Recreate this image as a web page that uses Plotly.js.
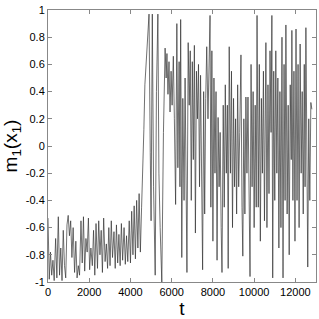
<!DOCTYPE html>
<html><head><meta charset="utf-8">
<script src="https://cdn.plot.ly/plotly-3.0.1.min.js"></script>
<style>html,body{margin:0;padding:0;background:#fff}#c{width:319px;height:319px}</style>
</head><body><div id="c"></div>
<script>
const tValues = [
0,60,120,180,240,300,370,430,500,560,
620,680,740,800,860,920,980,1040,1100,1160,
1220,1290,1350,1410,1470,1530,1600,1660,1720,1780,
1840,1900,1960,2020,2080,2150,2210,2270,2330,2400,
2460,2520,2580,2640,2700,2770,2830,2890,2950,3010,
3070,3130,3200,3260,3320,3380,3440,3500,3560,3620,
3690,3750,3810,3870,3940,4000,4060,4120,4180,4240,
4300,4360,4420,4480,4540,
4600,4650,4700,4760,4900,4960,5000,5060,5120,5200,
5260,5330,5380,5440,5520,5600,5680,5730,5770,5820,
5870,5920,5970,6020,6080,6130,6190,6250,6300,6360,
6400,6435,6490,6540,6600,6650,6700,6740,6800,6850,
6900,6950,7000,7050,7100,7150,7200,7250,7300,7350,
7400,7450,7500,7550,7600,7650,7700,7760,7800,7860,
7900,7950,8000,8050,8100,8150,8200,8250,8300,8350,
8400,8440,8500,8550,8600,8650,8700,8740,8790,8850,
8900,8950,9000,9050,9100,9150,9200,9250,9300,9360,
9410,9450,9500,9550,9600,9650,9700,9750,9800,9850,
9900,9950,10000,10050,10100,10140,10200,10250,10300,10350,
10400,10450,10500,10570,10620,10670,10720,10770,10820,10860,
10900,10950,11000,11050,11100,11150,11200,11250,11300,11350,
11400,11450,11500,11540,11600,11650,11700,11750,11800,11830,
11880,11930,11980,12030,12080,12130,12180,12230,12280,12330,
12380,12430,12470,12510,12560,12600,12650,12700,12750,12800];
const mValues = [
-0.53,-0.98,-0.78,-0.95,-0.84,-0.99,-0.68,-0.97,-0.52,-0.95,
-0.75,-0.99,-0.62,-0.88,-0.97,-0.58,-0.51,-0.66,-0.55,-0.82,
-0.60,-0.93,-0.70,-0.97,-0.88,-0.95,-0.55,-0.86,-0.52,-0.92,
-0.68,-0.78,-0.53,-0.91,-0.75,-0.88,-0.62,-0.95,-0.57,-0.90,
-0.55,-0.80,-0.62,-0.93,-0.53,-0.85,-0.72,-0.90,-0.60,-0.88,
-0.55,-0.82,-0.63,-0.90,-0.58,-0.86,-0.65,-0.88,-0.57,-0.84,
-0.60,-0.87,-0.66,-0.85,-0.55,-0.86,-0.48,-0.80,-0.44,-0.83,
-0.40,-0.75,-0.35,-0.78,-0.45,
0.0,0.12,0.45,0.62,0.97,-0.05,-0.55,0.97,-0.3,-0.95,
0.4,0.97,-0.2,-0.6,-1.0,0.1,0.72,0.5,0.68,0.38,
0.62,0.25,0.55,0.3,0.66,0.2,-0.43,0.90,-0.16,0.62,
-0.30,0.93,-0.82,0.35,-0.40,0.50,-0.10,-0.93,0.76,0.30,
0.70,-0.40,0.62,-0.10,0.74,-0.64,0.55,0.20,0.60,-0.30,
0.52,-0.20,-0.91,0.40,-0.50,0.35,0.73,0.20,0.55,0.96,
-0.45,0.70,-0.70,0.50,-0.20,0.40,-0.84,0.21,-0.30,0.10,
-0.60,-0.93,0.30,-0.45,0.45,-0.20,0.30,-0.90,0.73,-0.20,
0.55,-0.60,0.35,-0.30,0.20,-0.50,0.45,-0.30,0.10,0.67,
-0.45,-0.81,0.20,-0.50,0.36,-0.20,0.36,-0.40,-0.96,0.60,
-0.30,0.40,-0.60,0.30,-0.45,0.96,-0.45,0.60,-0.70,0.35,
-0.20,0.55,-0.55,0.76,-0.60,0.45,-0.35,0.70,0.10,0.96,
-0.97,0.55,-0.40,0.70,-0.20,0.50,-0.75,0.40,-0.60,0.80,
-0.97,0.60,-0.40,0.89,-0.50,0.30,-0.80,0.45,-0.10,0.85,
-0.40,0.55,-0.70,0.86,-0.40,0.60,-0.60,0.75,-0.20,0.40,
-0.50,0.60,-0.30,0.87,-0.50,-0.89,0.20,-0.40,0.32,0.27];
const xTicks = [0,2000,4000,6000,8000,10000,12000];
const xTickLabels = ['0','2000','4000','6000','8000','10000','12000'];
const yTicks = [-1,-0.8,-0.6,-0.4,-0.2,0,0.2,0.4,0.6,0.8,1];
const yTickLabels = ['-1','-0.8','-0.6','-0.4','-0.2','0','0.2','0.4','0.6','0.8','1'];

const fam = 'Liberation Sans, Arial, sans-serif';
const font = {family:fam, size:11, color:'#000'};
const titleFont = {family:fam, size:19, color:'#000'};
Plotly.newPlot('c', [{
  x: tValues, y: mValues, type:'scatter', mode:'lines',
  line:{color:'#333', width:0.7}, hoverinfo:'none'
}], {
  width:319, height:319,
  margin:{l:48, r:3, t:10, b:37},
  paper_bgcolor:'#fff', plot_bgcolor:'#fff',
  showlegend:false,
  font: font,
  xaxis:{range:[0,13000], tickvals:xTicks, ticktext:xTickLabels, ticks:'inside', ticklen:4,
    tickcolor:'#888', showline:true, linecolor:'#888', linewidth:1, mirror:'ticks',
    showgrid:false, zeroline:false, tickfont:font,
    title:{text:'t', font:titleFont, standoff:5}},
  yaxis:{range:[-1,1], tickvals:yTicks, ticktext:yTickLabels, ticks:'inside', ticklen:4,
    tickcolor:'#888', showline:true, linecolor:'#888', linewidth:1, mirror:'ticks',
    showgrid:false, zeroline:false, tickfont:font,
    title:{text:'m<sub>1</sub>(x<sub>1</sub>)', font:titleFont, standoff:8}}
}, {staticPlot:true, displayModeBar:false});
</script></body></html>
